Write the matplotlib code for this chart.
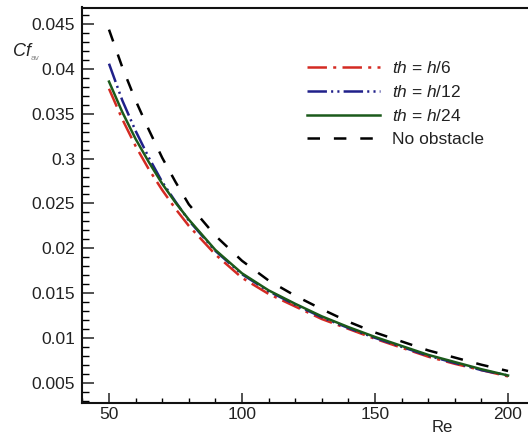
import matplotlib
matplotlib.use("Agg")
import matplotlib.pyplot as plt
from matplotlib.ticker import FixedLocator, FixedFormatter, MultipleLocator

plt.rcParams['font.family'] = ['Liberation Sans', 'DejaVu Sans']
plt.rcParams['mathtext.fontset'] = 'custom'
plt.rcParams['mathtext.it'] = 'Liberation Sans:italic'
plt.rcParams['mathtext.rm'] = 'Liberation Sans'
plt.rcParams['lines.scale_dashes'] = False

# ---- data ----
re = [50, 55, 60, 65, 70, 75, 80, 90, 100, 110, 120, 130, 140, 150, 160, 170, 180, 190, 200]
cf_h6 = [0.0378, 0.0344, 0.0314, 0.0288, 0.0265, 0.0244, 0.0225, 0.0193, 0.0167, 0.0149,
         0.0135, 0.0121, 0.0110, 0.0099, 0.0089, 0.0079, 0.0071, 0.0064, 0.0057]
cf_h12 = [0.0406, 0.0365, 0.0331, 0.0301, 0.0274, 0.0252, 0.0231, 0.0197, 0.0171, 0.0152,
          0.0137, 0.0123, 0.0111, 0.0100, 0.0090, 0.0080, 0.0072, 0.0064, 0.0058]
cf_h24 = [0.0386, 0.0352, 0.0322, 0.0296, 0.0272, 0.0251, 0.0232, 0.0198, 0.0172, 0.0153,
          0.0138, 0.0124, 0.0112, 0.0101, 0.0091, 0.0081, 0.0073, 0.0065, 0.0058]
cf_none = [0.0444, 0.0402, 0.0365, 0.0332, 0.0301, 0.0274, 0.0249, 0.0214, 0.0186, 0.0164,
           0.0147, 0.0132, 0.0118, 0.0106, 0.0096, 0.0086, 0.0078, 0.0070, 0.0063]

ytick_vals = [0.005, 0.01, 0.015, 0.02, 0.025, 0.03, 0.035, 0.04, 0.045]
ytick_labels = ['0.005', '0.01', '0.015', '0.02', '0.025', '0.3', '0.035', '0.04', '0.045']
xtick_vals = [50, 100, 150, 200]
xtick_labels = ['50', '100', '150', '200']

labels = [r'$th$ = $h$/6', r'$th$ = $h$/12', r'$th$ = $h$/24', 'No obstacle']

# ---- figure ----
W, H = 528, 437
fig = plt.figure(figsize=(W / 100, H / 100), dpi=100)
left, right, bottom, top = 82, 528, 403, 7.5
ax = fig.add_axes([left / W, 1 - bottom / H, (right - left) / W, (bottom - top) / H])

lw = 1.8
ax.plot(re, cf_h6, color='#d42a22', lw=lw, linestyle=(0, (14, 4.5, 2.2, 4.5)), label=labels[0])
ax.plot(re, cf_h12, color='#20208a', lw=lw, linestyle=(0, (14, 3, 1.5, 3, 1.5, 3)), label=labels[1])
ax.plot(re, cf_h24, color='#1b5a1b', lw=lw, linestyle='-', label=labels[2])
ax.plot(re, cf_none, color='black', lw=lw, linestyle=(0, (9, 10)), label=labels[3])

ax.set_xlim(39.85, 207.5)
ax.set_ylim(0.00273, 0.04687)

ax.yaxis.set_major_locator(FixedLocator(ytick_vals))
ax.yaxis.set_major_formatter(FixedFormatter(ytick_labels))
ax.yaxis.set_minor_locator(MultipleLocator(0.001))
ax.xaxis.set_major_locator(FixedLocator(xtick_vals))
ax.xaxis.set_major_formatter(FixedFormatter(xtick_labels))
ax.xaxis.set_minor_locator(MultipleLocator(10))

ax.tick_params(axis='y', which='major', direction='in', length=8.5, width=1.1, labelsize=12.5, pad=5)
ax.tick_params(axis='y', which='minor', direction='in', length=5, width=1.0)
ax.tick_params(axis='x', which='major', direction='in', length=7, width=1.1, labelsize=12.5, pad=3)
ax.tick_params(axis='x', which='minor', direction='in', length=3.5, width=1.0)
ax.tick_params(colors='#222222', labelcolor='#222222')

for s in ['left', 'bottom', 'top']:
    ax.spines[s].set_linewidth(1.5)
    ax.spines[s].set_color('#111111')
ax.spines['right'].set_visible(False)

# axis labels
fig.text(13 / W, 1 - 51 / H, 'Cf', fontsize=13, style='italic', color='#222222', va='center', ha='left')
fig.text(31 / W, 1 - 59 / H, 'av', fontsize=6, color='#888888', va='center', ha='left')
fig.text(442 / W, 1 - 428 / H, 'Re', fontsize=12, color='#222222', va='center', ha='center')

leg = ax.legend(loc='upper left', bbox_to_anchor=(307 / W, 1 - 60 / H), bbox_transform=fig.transFigure,
                frameon=False, fontsize=12.5, handlelength=4.2, handletextpad=0.7,
                labelspacing=0.45, borderpad=0, borderaxespad=0)
for t in leg.get_texts():
    t.set_color('#222222')

fig.savefig('out.png', dpi=100, facecolor='white')
